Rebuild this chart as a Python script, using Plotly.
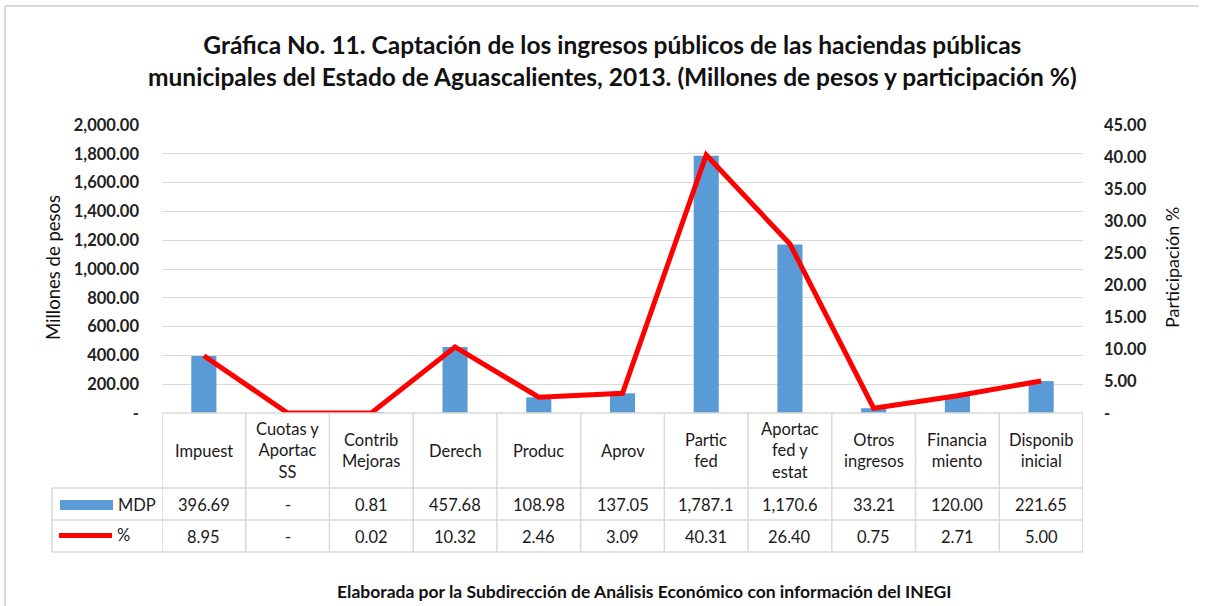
import plotly.graph_objects as go

# ---- data ----
categories = ["Impuest", "Cuotas y<br>Aportac<br>SS", "Contrib<br>Mejoras", "Derech", "Produc",
              "Aprov", "Partic<br>fed", "Aportac<br>fed y<br>estat", "Otros<br>ingresos",
              "Financia<br>miento", "Disponib<br>inicial"]
mdp = [396.69, 0, 0.81, 457.68, 108.98, 137.05, 1787.1, 1170.6, 33.21, 120.00, 221.65]
pct = [8.95, 0, 0.02, 10.32, 2.46, 3.09, 40.31, 26.40, 0.75, 2.71, 5.00]
mdp_labels = ["396.69", "-", "0.81", "457.68", "108.98", "137.05", "1,787.1", "1,170.6",
              "33.21", "120.00", "221.65"]
pct_labels = ["8.95", "-", "0.02", "10.32", "2.46", "3.09", "40.31", "26.40", "0.75",
              "2.71", "5.00"]
left_ticks = [0, 200, 400, 600, 800, 1000, 1200, 1400, 1600, 1800, 2000]
left_ticktext = ["-", "200.00", "400.00", "600.00", "800.00", "1,000.00", "1,200.00",
                 "1,400.00", "1,600.00", "1,800.00", "2,000.00"]
right_ticks = [0, 5, 10, 15, 20, 25, 30, 35, 40, 45]
right_ticktext = ["-", "5.00", "10.00", "15.00", "20.00", "25.00", "30.00", "35.00",
                  "40.00", "45.00"]

FONT = "Lato, 'Open Sans', sans-serif"
GRID = "#d9d9d9"
BLUE = "#5B9BD5"
RED = "#FF0000"
TXT = "#1a1a1a"

W, H = 1212, 606
L, R, T, B = 162, 1083, 125, 413
PH = B - T
PW = R - L


def py(p):
    return (B - p) / PH


def px(p):
    return (p - L) / PW


xs = list(range(len(categories)))

fig = go.Figure()
fig.add_trace(go.Bar(x=xs, y=mdp, name="MDP", marker=dict(color=BLUE, line=dict(width=0)),
                     width=0.30, yaxis="y"))
fig.add_trace(go.Scatter(x=xs, y=pct, name="%", mode="lines",
                         line=dict(color=RED, width=5), yaxis="y2"))

shapes = []
ann = []

# table lines
n = len(categories)
for i in range(n + 1):
    shapes.append(dict(type="line", xref="x", yref="paper", x0=i - 0.5, x1=i - 0.5,
                       y0=py(413), y1=py(552), line=dict(color=GRID, width=1.5)))
shapes.append(dict(type="line", xref="paper", yref="paper", x0=0, x1=1, y0=0, y1=0,
                   line=dict(color=GRID, width=1.5)))
for yy in (488, 520, 552):
    shapes.append(dict(type="line", xref="paper", yref="paper", x0=px(52), x1=1,
                       y0=py(yy), y1=py(yy), line=dict(color=GRID, width=1.5)))
shapes.append(dict(type="line", xref="paper", yref="paper", x0=px(52), x1=px(52),
                   y0=py(488), y1=py(552), line=dict(color=GRID, width=1.5)))

# legend keys in table
shapes.append(dict(type="rect", xref="paper", yref="paper", x0=px(60), x1=px(113),
                   y0=py(510), y1=py(500), fillcolor=BLUE, line=dict(width=0)))
shapes.append(dict(type="line", xref="paper", yref="paper", x0=px(59), x1=px(112),
                   y0=py(535.5), y1=py(535.5), line=dict(color=RED, width=5)))
ann.append(dict(text="MDP", xref="paper", yref="paper", x=px(116), y=py(505),
                xanchor="left", yanchor="middle", showarrow=False,
                font=dict(family=FONT, size=16.5, color=TXT)))
ann.append(dict(text="%", xref="paper", yref="paper", x=px(115), y=py(535),
                xanchor="left", yanchor="middle", showarrow=False,
                font=dict(family=FONT, size=16.5, color=TXT)))

# chart border
shapes.append(dict(type="line", xref="paper", yref="paper", x0=px(5), x1=px(1199),
                   y0=py(6), y1=py(6), line=dict(color=GRID, width=2)))
shapes.append(dict(type="line", xref="paper", yref="paper", x0=px(5), x1=px(5),
                   y0=py(6), y1=py(606), line=dict(color=GRID, width=2)))

for i, c in enumerate(categories):
    ann.append(dict(text=c, xref="x", yref="paper", x=i, y=py(450.5), xanchor="center",
                    yanchor="middle", showarrow=False,
                    font=dict(family=FONT, size=16.5, color=TXT)))
    ann.append(dict(text=mdp_labels[i], xref="x", yref="paper", x=i, y=py(504.5),
                    xanchor="center", yanchor="middle", showarrow=False,
                    font=dict(family=FONT, size=16.5, color=TXT)))
    ann.append(dict(text=pct_labels[i], xref="x", yref="paper", x=i, y=py(536.5),
                    xanchor="center", yanchor="middle", showarrow=False,
                    font=dict(family=FONT, size=16.5, color=TXT)))

# titles
ann.append(dict(text="<b>Gráfica No. 11. Captación de los ingresos públicos de las haciendas públicas"
                     "<br>municipales del Estado de Aguascalientes, 2013. (Millones de pesos y participación %)</b>",
                xref="paper", yref="paper", x=px(612), y=py(61), xanchor="center",
                yanchor="middle", showarrow=False,
                font=dict(family=FONT, size=24.5, color="#111")))
ann.append(dict(text="<b>Elaborada por la Subdirección de Análisis Económico con información del INEGI</b>",
                xref="paper", yref="paper", x=px(644), y=py(591), xanchor="center",
                yanchor="middle", showarrow=False,
                font=dict(family=FONT, size=17.5, color="#111")))
ann.append(dict(text="Millones de pesos", xref="paper", yref="paper", x=px(53), y=py(268),
                xanchor="center", yanchor="middle", textangle=-90, showarrow=False,
                font=dict(family=FONT, size=18.5, color="#111")))
ann.append(dict(text="Participación %", xref="paper", yref="paper", x=px(1172), y=py(268),
                xanchor="center", yanchor="middle", textangle=-90, showarrow=False,
                font=dict(family=FONT, size=18, color="#111")))

fig.update_layout(
    width=W, height=H,
    margin=dict(l=L, r=W - R, t=T, b=H - B, pad=0),
    paper_bgcolor="white", plot_bgcolor="white",
    showlegend=False,
    xaxis=dict(range=[-0.5, n - 0.5], showticklabels=False, showgrid=False,
               zeroline=False, showline=False, ticks=""),
    yaxis=dict(range=[0, 2000], tickvals=left_ticks, ticktext=left_ticktext,
               showgrid=True, gridcolor=GRID, gridwidth=1, zeroline=False, showline=False,
               ticks="", ticklabelstandoff=22,
               tickfont=dict(family=FONT, size=16.5, color="#222", weight="bold")),
    yaxis2=dict(range=[0, 45], tickvals=right_ticks, ticktext=right_ticktext,
                overlaying="y", side="right", showgrid=False, zeroline=False,
                showline=False, ticks="", ticklabelstandoff=20,
                tickfont=dict(family=FONT, size=16.5, color="#222", weight="bold")),
    shapes=shapes, annotations=ann,
)

fig.write_html("out.html", config={"displayModeBar": False},
               post_script="document.body.style.margin='0px';"
                           "document.body.style.overflow='hidden';"
                           "document.documentElement.style.overflow='hidden';")
